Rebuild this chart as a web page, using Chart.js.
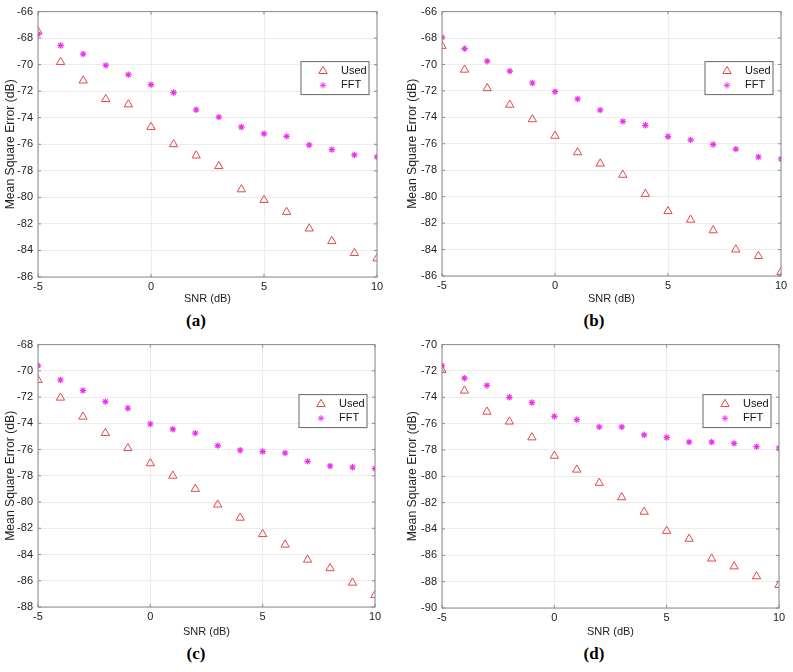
<!DOCTYPE html>
<html>
<head>
<meta charset="utf-8">
<script src="https://cdn.jsdelivr.net/npm/chart.js@4.4.0/dist/chart.umd.min.js"></script>
<style>
  body { margin: 0; background: #fff; }
  #wrap { position: relative; width: 793px; height: 672px; overflow: hidden; }
  .panel { position: absolute; width: 400px; height: 310px; }
  .tag { position: absolute; width: 60px; text-align: center; font-family: "Liberation Serif", serif; font-weight: bold; font-size: 17px; color: #000; }
</style>
</head>
<body>
<div id="wrap">
  <div class="panel" style="left:0;top:0"><canvas id="ca"></canvas></div>
  <div class="panel" style="left:400px;top:0"><canvas id="cb"></canvas></div>
  <div class="panel" style="left:0;top:333px"><canvas id="cc"></canvas></div>
  <div class="panel" style="left:400px;top:333px"><canvas id="cd"></canvas></div>
  <div class="tag" style="left:166px;top:311px">(a)</div>
  <div class="tag" style="left:564px;top:311px">(b)</div>
  <div class="tag" style="left:166px;top:644px">(c)</div>
  <div class="tag" style="left:564px;top:644px">(d)</div>
</div>
<script>
// SNR points shared by all panels
const snr = [-5, -4, -3, -2, -1, 0, 1, 2, 3, 4, 5, 6, 7, 8, 9, 10];

// (a)
const usedA = [-67.5, -69.8, -71.2, -72.6, -73.0, -74.7, -76.0, -76.85, -77.65, -79.4, -80.2, -81.1, -82.35, -83.3, -84.2, -84.6];
const fftA  = [-67.7, -68.55, -69.2, -70.05, -70.75, -71.5, -72.1, -73.4, -73.95, -74.7, -75.2, -75.4, -76.05, -76.4, -76.8, -76.95];
// (b)
const usedB = [-68.6, -70.4, -71.8, -73.05, -74.15, -75.4, -76.65, -77.5, -78.35, -79.8, -81.1, -81.75, -82.55, -84.0, -84.5, -85.7];
const fftB  = [-67.95, -68.8, -69.75, -70.5, -71.4, -72.05, -72.6, -73.45, -74.3, -74.6, -75.45, -75.7, -76.05, -76.4, -77.0, -77.15];
// (c)
const usedC = [-70.7, -72.05, -73.5, -74.75, -75.9, -77.05, -78.0, -79.0, -80.2, -81.2, -82.45, -83.25, -84.4, -85.05, -86.15, -87.1];
const fftC  = [-69.6, -70.7, -71.5, -72.35, -72.85, -74.05, -74.45, -74.75, -75.7, -76.05, -76.15, -76.25, -76.9, -77.25, -77.35, -77.45];
// (d)
const usedD = [-71.95, -73.5, -75.1, -75.85, -77.05, -78.45, -79.5, -80.5, -81.6, -82.7, -84.15, -84.75, -86.25, -86.85, -87.6, -88.25];
const fftD  = [-71.6, -72.55, -73.1, -74.0, -74.4, -75.45, -75.7, -76.25, -76.25, -76.85, -77.05, -77.4, -77.4, -77.5, -77.75, -77.85];

// y ranges per panel
const yRanges = { a: [-86, -66], b: [-86, -66], c: [-88, -68], d: [-90, -70] };

const seriesNames = ['Used', 'FFT'];
const usedColor = '#e2474b';
const fftColor = '#f032f0';

// MATLAB-like box, inward ticks and legend
const boxPlugin = {
  id: 'box',
  afterDraw(chart) {
    const ctx = chart.ctx;
    const a = chart.chartArea;
    const xs = chart.scales.x, ys = chart.scales.y;
    ctx.save();
    ctx.strokeStyle = '#8a8a8a';
    ctx.lineWidth = 1;
    ctx.strokeRect(a.left, a.top, a.right - a.left, a.bottom - a.top);
    ctx.beginPath();
    xs.ticks.forEach(t => {
      const px = xs.getPixelForValue(t.value);
      ctx.moveTo(px, a.bottom); ctx.lineTo(px, a.bottom - 3);
      ctx.moveTo(px, a.top); ctx.lineTo(px, a.top + 3);
    });
    ys.ticks.forEach(t => {
      const py = ys.getPixelForValue(t.value);
      ctx.moveTo(a.left, py); ctx.lineTo(a.left + 3, py);
      ctx.moveTo(a.right, py); ctx.lineTo(a.right - 3, py);
    });
    ctx.stroke();

    // legend box
    const w = 68, h = 33;
    const lx = a.right - 8 - w, ly = a.top + 50;
    ctx.fillStyle = '#fff';
    ctx.fillRect(lx, ly, w, h);
    ctx.strokeStyle = '#666';
    ctx.strokeRect(lx, ly, w, h);
    ctx.font = '11px "Liberation Sans", Arial, sans-serif';
    ctx.textBaseline = 'middle';
    chart.data.datasets.forEach((ds, i) => {
      const yy = ly + 9.5 + i * 14.2;
      ctx.strokeStyle = ds.borderColor;
      ctx.fillStyle = ds.backgroundColor;
      ctx.lineWidth = 1;
      Chart.helpers.drawPoint(ctx, {
        pointStyle: ds.pointStyle, radius: ds.pointRadius, borderWidth: 1
      }, lx + 22, yy);
      ctx.fillStyle = '#111';
      ctx.fillText(ds.label, lx + 40, yy);
    });
    ctx.restore();
  }
};

function makeChart(id, used, fft, range, plot) {
  const ctx = document.getElementById(id).getContext('2d');
  return new Chart(ctx, {
    type: 'scatter',
    data: {
      datasets: [
        {
          label: seriesNames[0],
          data: snr.map((x, i) => ({ x: x, y: used[i] })),
          pointStyle: 'triangle', pointRadius: 4.8, pointBorderWidth: 1,
          borderColor: usedColor, backgroundColor: 'rgba(0,0,0,0)'
        },
        {
          label: seriesNames[1],
          data: snr.map((x, i) => ({ x: x, y: fft[i] })),
          pointStyle: 'star', pointRadius: 3.2, pointBorderWidth: 1.2,
          borderColor: fftColor, backgroundColor: fftColor
        }
      ]
    },
    options: {
      responsive: false,
      animation: false,
      devicePixelRatio: 1,
      layout: { padding: { left: 0, right: 400 - plot.R, top: plot.T, bottom: 0 } },
      plugins: { legend: { display: false }, tooltip: { enabled: false } },
      scales: {
        x: {
          type: 'linear', min: -5, max: 10,
          afterFit: s => { s.height = 310 - plot.B; },
          grid: { color: '#ececec', drawTicks: false },
          border: { display: false },
          ticks: { stepSize: 5, padding: 3, color: '#222', font: { family: '"Liberation Sans", Arial', size: 11 } },
          title: { display: true, text: 'SNR (dB)', color: '#222', padding: { top: 0, bottom: 4 }, font: { family: '"Liberation Sans", Arial', size: 11 } }
        },
        y: {
          min: range[0], max: range[1],
          afterFit: s => { s.width = plot.L; },
          grid: { color: '#ececec', drawTicks: false },
          border: { display: false },
          ticks: { stepSize: 2, padding: 5, color: '#222', font: { family: '"Liberation Sans", Arial', size: 11 } },
          title: { display: true, text: 'Mean Square Error (dB)', color: '#222', padding: { top: plot.tp, bottom: 0 }, font: { family: '"Liberation Sans", Arial', size: 12.2 } }
        }
      }
    },
    plugins: [boxPlugin]
  });
}

document.querySelectorAll('canvas').forEach(c => { c.width = 400; c.height = 310; });

makeChart('ca', usedA, fftA, yRanges.a, { L: 38, R: 377, T: 10, B: 277, tp: 3 });
makeChart('cb', usedB, fftB, yRanges.b, { L: 42, R: 381, T: 10, B: 276, tp: 5 });
makeChart('cc', usedC, fftC, yRanges.c, { L: 38, R: 375, T: 10, B: 274, tp: 3 });
makeChart('cd', usedD, fftD, yRanges.d, { L: 42, R: 379, T: 10, B: 275, tp: 5 });
</script>
</body>
</html>
